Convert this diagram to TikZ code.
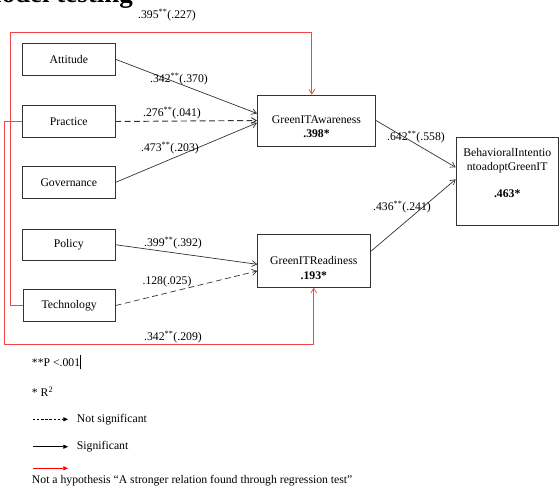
\documentclass[tikz,border=0pt]{standalone}
\usepackage{fontspec}
\setmainfont{Liberation Serif}
\usetikzlibrary{arrows.meta}
\definecolor{hypred}{RGB}{240,70,70}
\tikzset{
  box/.style={draw=black!80, line width=0.6pt, minimum width=2.77cm, minimum height=0.95cm, inner sep=0pt},
  bigbox/.style={draw=black!80, line width=0.6pt, inner sep=0pt},
  sig/.style={draw=black!80, line width=0.6pt, -{Straight Barb[length=4pt,width=5pt]}},
  nonsig/.style={sig, dash pattern=on 5pt off 3pt, line width=0.8pt},
  hyp/.style={draw=hypred, line width=0.6pt, -{Straight Barb[length=4pt,width=5pt]}},
  lbl/.style={inner sep=0pt},
  legsig/.style={draw=black, line width=0.5pt, -{Triangle[length=4pt,width=3.5pt]}},
  legtxt/.style={anchor=west, inner sep=0pt}
}
\begin{document}
\begin{tikzpicture}[x=0.03cm,y=-0.03cm]
\useasboundingbox (0,0) rectangle (560,489);
\node[font=\fontsize{23}{26}\selectfont\bfseries, anchor=base east, inner sep=0pt] (title) at (133,3) {Model testing};

\node[box] (attitude) at (68.8,59.2) {Attitude};
\node[box] (practice) at (68.8,121.5) {Practice};
\node[box] (governance) at (68.8,182.5) {Governance};
\node[box] (policy) at (68.8,244.7) {Policy};
\node[box] (technology) at (69.2,305.5) {Technology};

\node[bigbox, minimum width=3.55cm, minimum height=1.53cm] (aware) at (316.5,120.5) {};
\node[align=center, inner sep=0pt] (awaretxt) at (316.5,126.7) {GreenITAwareness\\ \textbf{.398*}};
\node[bigbox, minimum width=3.37cm, minimum height=1.59cm] (ready) at (313.8,260.8) {};
\node[align=center, inner sep=0pt] (readytxt) at (313.8,268) {GreenITReadiness\\ \textbf{.193*}};
\node[bigbox, minimum width=3.07cm, minimum height=2.63cm] (intent) at (507.2,181.2) {};
\node[align=center, inner sep=0pt] (intenttxt) at (507.2,173.4) {BehavioralIntentio\\ ntoadoptGreenIT\\[11pt] \textbf{.463*}};

\draw[sig] (attitude.east) -- ([yshift=6pt]aware.west);
\draw[nonsig] (practice.east) -- (aware.west);
\draw[sig] (governance.east) -- ([yshift=-2pt]aware.west);
\draw[sig] (policy.east) -- ([yshift=-3pt]ready.west);
\draw[nonsig, line width=0.6pt] (technology.east) -- ([yshift=-8.7pt]ready.west);
\draw[sig] (aware.east) -- ([yshift=11.8pt]intent.west);
\draw[sig] ([yshift=7.7pt]ready.east) -- ([yshift=1.6pt]intent.west);

\draw[hyp] (technology.west) -| (10,32) -| ([xshift=-4pt]aware.north);
\draw[hyp] (practice.west) -| (4,344) -| (ready.south);

\node[lbl] (latt) at (179,79) {.342\textsuperscript{**}(.370)};
\node[lbl] (lprac) at (172,113.3) {.276\textsuperscript{**}(.041)};
\node[lbl] (lgov) at (170,148.3) {.473\textsuperscript{**}(.203)};
\node[lbl] (lpol) at (173,243.3) {.399\textsuperscript{**}(.392)};
\node[lbl] (ltech) at (167,281.7) {.128(.025)};
\node[lbl] (laware) at (416,137) {.642\textsuperscript{**}(.558)};
\node[lbl] (lready) at (402,206.7) {.436\textsuperscript{**}(.241)};
\node[lbl] (ltop) at (167,15) {.395\textsuperscript{**}(.227)};
\node[lbl] (lbottom) at (173,336.7) {.342\textsuperscript{**}(.209)};

\node[legtxt] (pnote) at (31.7,362.3) {**P <.001\rule[-0.25em]{0.9pt}{1.2em}};
\node[legtxt] (rnote) at (31.7,391.7) {* R\textsuperscript{2}};
\coordinate (ns0) at (33,419.3);
\coordinate (ns1) at (68,419.3);
\draw[legsig, dash pattern=on 2pt off 1.5pt] (ns0) -- (ns1);
\node[legtxt] (nstxt) at (76.7,419.3) {Not significant};
\coordinate (s0) at (33,446.7);
\coordinate (s1) at (68,446.7);
\draw[legsig] (s0) -- (s1);
\node[legtxt] (stxt) at (76.7,446.7) {Significant};
\coordinate (h0) at (33,468.3);
\coordinate (h1) at (68,468.3);
\draw[legsig, draw=red, fill=red] (h0) -- (h1);
\node[legtxt] (hyptxt) at (31.7,480.7) {Not a hypothesis “A stronger relation found through regression test”};
\end{tikzpicture}
\end{document}
